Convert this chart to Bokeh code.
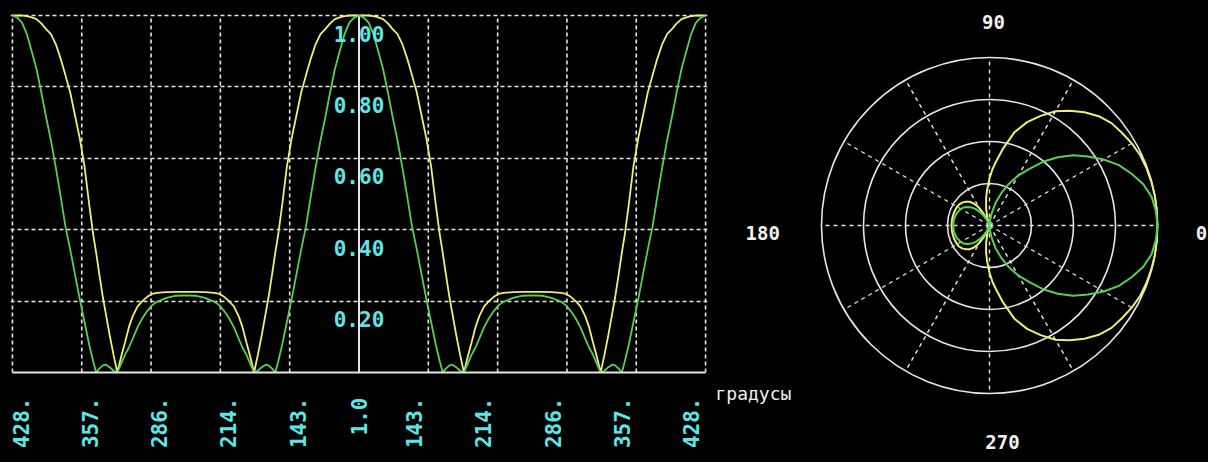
import math
import numpy as np
from bokeh.plotting import figure
from bokeh.layouts import row
from bokeh.models import Range1d, FixedTicker, LinearAxis, GlobalInlineStyleSheet
from bokeh.core.properties import value
from bokeh.embed import file_html
from bokeh.resources import INLINE

# ---------------- data (half period 0..180 deg) -------------
theta_half = [0, 5, 10, 15, 20, 25, 30, 35, 40, 45, 50, 55, 60, 65, 70, 75, 80, 84, 87,
              90, 94, 97, 101, 105, 109, 113, 117, 121, 125, 130, 135, 140, 145, 150,
              160, 170, 180]
yellow_half = [1.0, 1.0, 1.0, 0.998, 0.995, 0.99, 0.978, 0.962, 0.948, 0.92, 0.88, 0.833,
               0.785, 0.72, 0.655, 0.575, 0.465, 0.385, 0.335, 0.28, 0.21, 0.165, 0.105,
               0.05, 0.0, 0.045, 0.085, 0.127, 0.158, 0.185, 0.2, 0.212, 0.22, 0.223,
               0.225, 0.226, 0.226]
green_half = [1.0, 0.994, 0.98, 0.948, 0.9, 0.85, 0.785, 0.715, 0.65, 0.575, 0.495, 0.41,
              0.345, 0.275, 0.205, 0.14, 0.075, 0.03, 0.0, 0.01, 0.02, 0.022, 0.015,
              0.005, 0.0, 0.025, 0.05, 0.07, 0.095, 0.127, 0.152, 0.172, 0.188, 0.198,
              0.209, 0.215, 0.216]

grid_x = [-360, -288, -216, -144, -72, 72, 144, 216, 288, 360]
grid_y = [0.2, 0.4, 0.6, 0.8, 1.0]
y_tick_labels = ["0.20", "0.40", "0.60", "0.80", "1.00"]
x_tick_pos = [-351, -279, -208, -136, -63, 0, 57, 129, 201, 273, 345]
x_tick_labels = ["428.", "357.", "286.", "214.", "143.", "1.0",
                 "143.", "214.", "286.", "357.", "428."]
x_axis_title = "градусы"

ring_radii = [0.25, 0.5, 0.75, 1.0]
spoke_angles = list(range(0, 360, 30))
compass_angles = [0, 90, 180, 270]
compass_labels = ["0", "90", "180", "270"]

# ---------------- styles ----------------
BG = "black"
WHITE = "#e6e6e6"
CYAN = "#5ee6e6"
YELLOW = "#eeee78"
GREEN = "#55d055"
MONO = "DejaVu Sans Mono"

# symmetric pattern: one period (0..360) and the -360..360 span, built from the half
th = np.array(theta_half, dtype=float)
period_theta = np.concatenate([th, 360.0 - th[::-1][1:]])


def period(vals):
    v = np.array(vals, dtype=float)
    return np.concatenate([v, v[::-1][1:]])


yel_p = period(yellow_half)
grn_p = period(green_half)
x_full = np.concatenate([period_theta - 360.0, period_theta[1:]])
yel_full = np.concatenate([yel_p, yel_p[1:]])
grn_full = np.concatenate([grn_p, grn_p[1:]])

# ---------------- left: cartesian pattern ----------------
H = 462
PXU = 357.0                      # px per unit of y
Y0_PX, Y1_PX = 372.0, 15.0       # screen rows of y=0 and y=1
p1 = figure(width=710, height=H, x_range=Range1d(-362, 362),
            y_range=Range1d(-(H - Y0_PX) / PXU, 1 + Y1_PX / PXU),
            output_backend="svg", toolbar_location=None,
            x_axis_location=None, y_axis_location=None,
            min_border_left=10, min_border_right=3, min_border_top=0, min_border_bottom=0,
            background_fill_color=BG, border_fill_color=BG, outline_line_color=None)
p1.xgrid.visible = False
gy = p1.ygrid[0]
gy.ticker = FixedTicker(ticks=grid_y)
gy.grid_line_color = WHITE
gy.grid_line_dash = "4 3"
gy.grid_line_width = 1.6

# vertical dashed grid lines between y=0 and y=1
p1.segment(x0=grid_x, y0=[0] * len(grid_x), x1=grid_x, y1=[1] * len(grid_x),
           line_color=WHITE, line_width=1.6, line_dash="4 3")
# solid vertical axis at 0
p1.segment(x0=[0], y0=[0], x1=[0], y1=[1], line_color=WHITE, line_width=2)

ax = LinearAxis(fixed_location=0)
ax.ticker = FixedTicker(ticks=x_tick_pos)
ax.major_label_overrides = {t: l for t, l in zip(x_tick_pos, x_tick_labels)}
ax.major_label_orientation = math.pi / 2
ax.major_label_text_color = CYAN
ax.major_label_text_font = MONO
ax.major_label_text_font_style = "bold"
ax.major_label_text_font_size = "21px"
ax.major_label_standoff = 25
ax.major_tick_line_color = None
ax.minor_tick_line_color = None
ax.major_tick_out = 0
ax.major_tick_in = 0
ax.axis_line_color = WHITE
ax.axis_line_width = 2
ax.bounds = (-360, 360)
p1.add_layout(ax, "below")

p1.line(x_full, yel_full, line_color=YELLOW, line_width=1.8)
p1.line(x_full, grn_full, line_color=GREEN, line_width=1.8)

p1.text(x=[0] * len(grid_y), y=grid_y, text=y_tick_labels, text_color=CYAN,
        text_font=value(MONO), text_font_style="bold", text_font_size="21px",
        text_align="center", text_baseline="middle", y_offset=18)

# ---------------- right: polar pattern ----------------
SC = 168.0          # px per unit radius
CX, CY = 279.0, 225.0
W2 = 498
p2 = figure(width=W2, height=H,
            x_range=Range1d(-CX / SC, (W2 - CX) / SC),
            y_range=Range1d(-(H - CY) / SC, CY / SC),
            output_backend="svg", toolbar_location=None,
            x_axis_location=None, y_axis_location=None, min_border=0,
            background_fill_color=BG, border_fill_color=BG, outline_line_color=None)
p2.xgrid.visible = False
p2.ygrid.visible = False

sa = np.radians(spoke_angles)
p2.segment(x0=[0] * len(sa), y0=[0] * len(sa), x1=np.cos(sa), y1=np.sin(sa),
           line_color=WHITE, line_width=1.4, line_dash="4 4")
p2.circle(x=[0] * len(ring_radii), y=[0] * len(ring_radii), radius=ring_radii,
          fill_color=None, line_color=WHITE, line_width=1.6)

pt = np.radians(period_theta)
p2.line(yel_p * np.cos(pt), yel_p * np.sin(pt), line_color=YELLOW, line_width=2)
p2.line(grn_p * np.cos(pt), grn_p * np.sin(pt), line_color=GREEN, line_width=2)

ca = np.radians(compass_angles)
cdist = np.array([1.262, 1.21, 1.35, 1.29])
p2.text(x=cdist * np.cos(ca), y=cdist * np.sin(ca), text=compass_labels,
        x_offset=[0, 4, 0, 13], y_offset=[7, 0, 7, 0],
        text_color="#f0f0f0", text_font=value(MONO), text_font_style="bold",
        text_font_size="19px", text_align="center", text_baseline="middle")

# axis title of the left chart (drawn in the right canvas, beside the axis end)
p2.text(x=[(5 - CX) / SC], y=[(CY - 393) / SC], text=[x_axis_title],
        text_color="#f0f0f0", text_font=value(MONO), text_font_size="18px",
        text_align="left", text_baseline="alphabetic")

layout = row(p1, p2, stylesheets=[GlobalInlineStyleSheet(
    css="html, body { margin: 0; padding: 0; background: #000; }")])

open("out.html", "w").write(file_html(layout, INLINE))
